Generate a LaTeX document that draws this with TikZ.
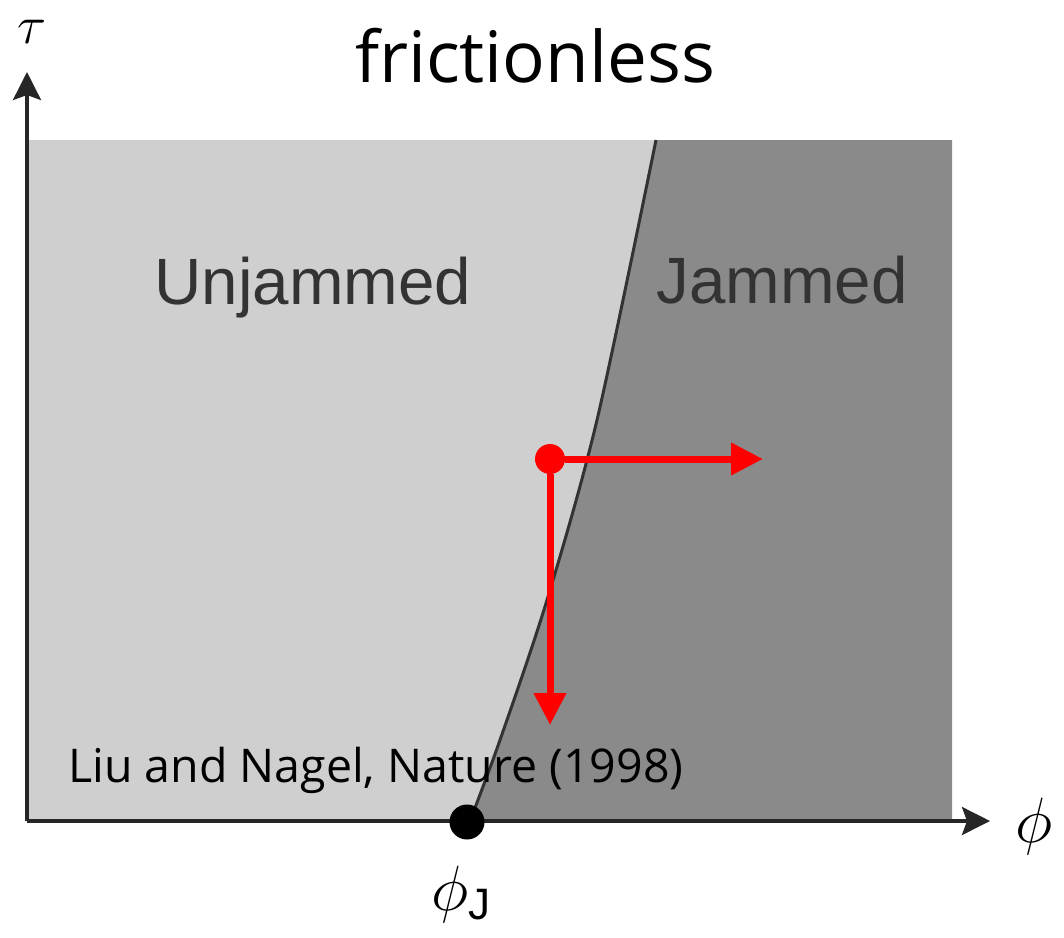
\RequirePackage{fix-cm}
\documentclass[tikz,border=0pt]{standalone}
\usepackage{fontspec}
\setmainfont{Open Sans}
\newfontfamily\helv{Liberation Sans}
\usetikzlibrary{arrows.meta,positioning}

\begin{document}
\begin{tikzpicture}[x=1pt,y=-1pt]
\definecolor{unjam}{HTML}{CFCFCF}
\definecolor{jam}{HTML}{8A8A8A}
\definecolor{lbl}{HTML}{333333}
\tikzstyle{ax}=[-{Stealth[length=28pt,width=28pt,inset=5pt]}, line width=3.5pt, black!85]
\tikzstyle{rarr}=[-{Triangle[length=32pt,width=31pt]}, line width=7pt, red]
\tikzstyle{region}=[font=\helv\fontsize{65.5}{65.5}\selectfont, text=lbl, inner sep=0pt, anchor=base]
\useasboundingbox (0,0) rectangle (1064,937);
% phase regions
\fill[unjam] (27,140) rectangle (952,821);
\fill[jam] (470,821) plot[smooth] coordinates {(470,821) (500,740) (547,600) (597,420) (656,140)}
  -- (952,140) -- (952,821) -- cycle;
\draw[line width=3pt, black!80] plot[smooth] coordinates {(470,821) (500,740) (547,600) (597,420) (656,140)};
% axes
\coordinate (o) at (27,821);
\coordinate (ytip) at (27,72);
\coordinate (xtip) at (990,821);
\draw[ax] (o) -- (ytip);
\draw[ax] (o) -- (xtip);
\node[font=\fontsize{54}{54}\selectfont, inner sep=0pt] (tau) at (32,32) {$\tau$};
\node[font=\fontsize{64}{64}\selectfont] (phi) at (1034,826) {$\phi$};
\node[circle, fill=black, inner sep=0pt, minimum size=35pt] (pj) at (467,822) {};
\node[font=\fontsize{64}{64}\selectfont, inner sep=0pt, below=26pt of pj, xshift=-6pt] (phij)
  {$\phi_{\mbox{\helv\fontsize{44}{44}\selectfont J}}$};
% labels
\node[region] (unj) at (313,304) {Unjammed};
\node[region] (jmd) at (782,303) {Jammed};
\node[font=\fontsize{71}{71}\selectfont, anchor=base] (title) at (535,82) {frictionless};
\node[font=\fontsize{46.5}{46.5}\selectfont, anchor=base west, inner sep=0pt] (ref) at (68,782) {Liu and Nagel, Nature (1998)};
% protocol
\node[circle, fill=red, inner sep=0pt, minimum size=30pt] (st) at (550,459) {};
\coordinate (hend) at (763,459);
\coordinate (vend) at (550,725);
\draw[rarr] (st) -- (hend);
\draw[rarr] (st) -- (vend);
\end{tikzpicture}
\end{document}
